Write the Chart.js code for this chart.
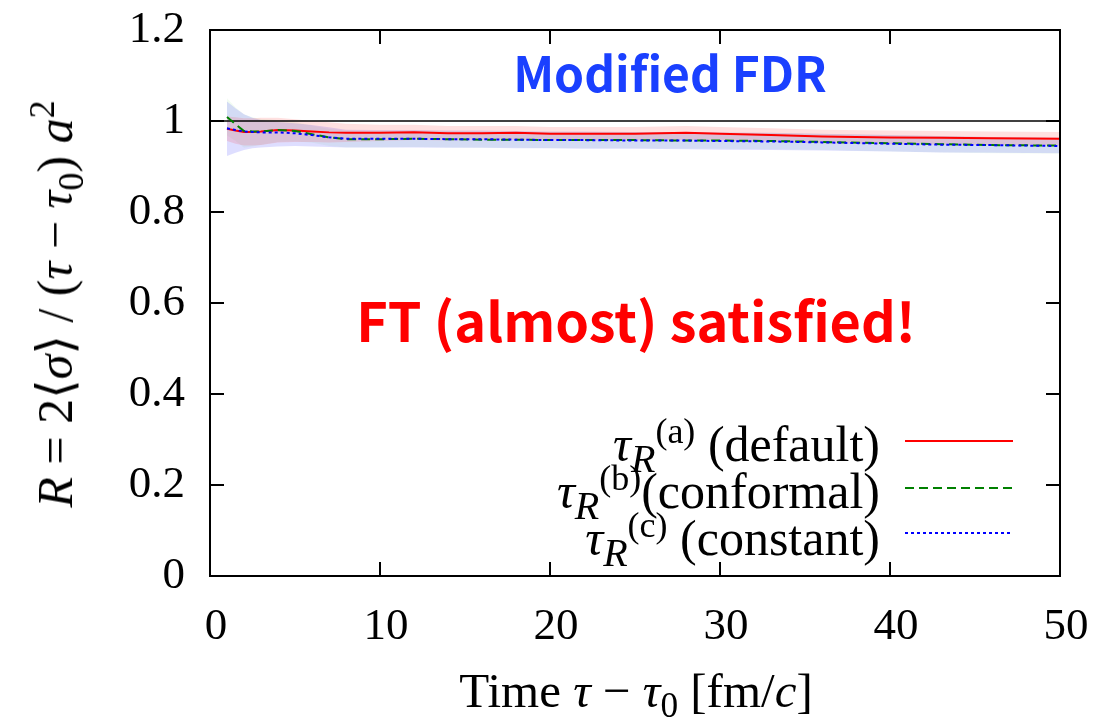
<!DOCTYPE html>
<html>
<head>
<meta charset="utf-8">
<script src="https://cdn.jsdelivr.net/npm/chart.js@4.4.1/dist/chart.umd.min.js"></script>
<style>
  html, body { margin:0; padding:0; background:#fff; }
  #wrap { position:relative; width:1094px; height:719px; overflow:hidden; }
  canvas { position:absolute; left:0; top:0; }
  .serif { font-family:"Liberation Serif","DejaVu Serif",serif; color:#000; position:absolute; white-space:nowrap; }
  .ann { font-family:"Noto Sans CJK JP","Noto Sans",sans-serif; font-weight:700; position:absolute; white-space:nowrap; transform:translate(-50%,-50%); }
  sub, sup { font-size:72%; line-height:0; }
  .leg sub { font-size:80%; }
</style>
</head>
<body>
<div id="wrap">
  <canvas id="c" width="1094" height="719"></canvas>
  <div class="serif" id="ytitle" style="left:55px;top:304px;font-size:50px;transform:translate(-50%,-50%) rotate(-90deg);"><i>R</i> = 2⟨<i>σ</i>⟩ / (<i>τ</i> − <i>τ</i><sub>0</sub>) <i>a</i><sup>2</sup></div>
  <div class="serif" id="xtitle" style="left:636px;top:690px;font-size:49px;transform:translate(-50%,-50%);">Time <i>τ</i> − <i>τ</i><sub>0</sub> [fm/<i>c</i>]</div>
  <div class="ann" style="left:670px;top:71px;font-size:48px;color:#1a40ff;">Modified FDR</div>
  <div class="ann" style="left:636px;top:318px;font-size:54px;color:#ff0000;">FT (almost) satisfied!</div>
  <div class="serif leg" style="right:214px;top:444px;font-size:50px;transform:translateY(-50%);"><i>τ</i><sub><i>R</i></sub><sup>(a)</sup> (default)</div>
  <div class="serif leg" style="right:214px;top:491px;font-size:50px;transform:translateY(-50%);"><i>τ</i><sub><i>R</i></sub><sup>(b)</sup>(conformal)</div>
  <div class="serif leg" style="right:214px;top:538px;font-size:50px;transform:translateY(-50%);"><i>τ</i><sub><i>R</i></sub><sup>(c)</sup> (constant)</div>
</div>
<script>
// ---- data ----
const tau = [1, 1.5, 2, 2.5, 3, 4, 5, 6, 7, 8, 10, 12, 14, 16, 18, 20, 22, 25, 28, 30, 33, 36, 40, 43, 46, 50];

const defaultR = [0.983, 0.979, 0.976, 0.976, 0.977, 0.980, 0.979, 0.977, 0.975, 0.974, 0.974, 0.975, 0.973, 0.973, 0.974, 0.972, 0.972, 0.972, 0.974, 0.972, 0.969, 0.966, 0.964, 0.963, 0.962, 0.961];
const defaultUp = [1.010, 1.008, 1.006, 1.006, 1.007, 1.007, 1.004, 1.000, 0.997, 0.994, 0.992, 0.992, 0.989, 0.989, 0.989, 0.987, 0.987, 0.987, 0.989, 0.987, 0.984, 0.981, 0.979, 0.978, 0.977, 0.976];
const defaultLo = [0.956, 0.950, 0.946, 0.946, 0.947, 0.953, 0.954, 0.954, 0.953, 0.954, 0.956, 0.958, 0.957, 0.958, 0.959, 0.957, 0.957, 0.957, 0.959, 0.957, 0.954, 0.951, 0.949, 0.948, 0.947, 0.946];

const conformalR = [1.009, 0.993, 0.978, 0.977, 0.977, 0.980, 0.978, 0.971, 0.964, 0.960, 0.960, 0.961, 0.960, 0.959, 0.959, 0.958, 0.958, 0.958, 0.957, 0.957, 0.956, 0.954, 0.951, 0.949, 0.947, 0.946];
const conformalUp = [1.050, 1.030, 1.015, 1.008, 1.005, 1.002, 0.998, 0.990, 0.983, 0.979, 0.978, 0.979, 0.978, 0.977, 0.977, 0.976, 0.976, 0.976, 0.975, 0.975, 0.974, 0.972, 0.969, 0.967, 0.965, 0.964];
const conformalLo = [0.968, 0.956, 0.941, 0.944, 0.947, 0.954, 0.955, 0.952, 0.945, 0.942, 0.942, 0.943, 0.942, 0.941, 0.941, 0.940, 0.940, 0.940, 0.939, 0.939, 0.938, 0.936, 0.933, 0.931, 0.929, 0.928];

const constantR = [0.984, 0.980, 0.977, 0.976, 0.975, 0.975, 0.973, 0.969, 0.964, 0.961, 0.961, 0.961, 0.960, 0.960, 0.959, 0.958, 0.958, 0.957, 0.957, 0.956, 0.955, 0.953, 0.950, 0.948, 0.947, 0.945];
const constantUp = [1.043, 1.028, 1.015, 1.007, 1.002, 0.998, 0.995, 0.991, 0.986, 0.981, 0.980, 0.980, 0.979, 0.979, 0.978, 0.977, 0.977, 0.976, 0.976, 0.975, 0.974, 0.972, 0.969, 0.967, 0.965, 0.963];
const constantLo = [0.923, 0.930, 0.936, 0.940, 0.942, 0.944, 0.945, 0.944, 0.943, 0.942, 0.942, 0.942, 0.941, 0.941, 0.940, 0.940, 0.939, 0.939, 0.938, 0.937, 0.936, 0.935, 0.933, 0.931, 0.930, 0.929];

const refX = [0, 50];
const refY = [1, 1];

const xTicks = [0, 10, 20, 30, 40, 50];
const yTicks = [0, 0.2, 0.4, 0.6, 0.8, 1, 1.2];

// ---- build ----
const pts = (xs, ys) => xs.map((x, i) => ({x: x, y: ys[i]}));
const band = (label, ys, color, order, fillTarget) => ({
  label, data: pts(tau, ys), borderWidth: 0, borderColor: 'rgba(0,0,0,0)',
  backgroundColor: color, pointRadius: 0, fill: fillTarget, order, tension: 0
});
const line = (label, ys, color, dash, order) => ({
  label, data: pts(tau, ys), borderColor: color, borderWidth: 2, borderDash: dash,
  pointRadius: 0, fill: false, order, tension: 0
});

const datasets = [
  line('default', defaultR, '#ff0000', [], 3),        // 0
  line('conformal', conformalR, '#008000', [9, 5], 2), // 1
  line('constant', constantR, '#0000ff', [3, 3], 1),   // 2
  { label: 'ref', data: pts(refX, refY), borderColor: '#000', borderWidth: 1.5, pointRadius: 0, fill: false, order: 4 }, // 3
  band('defUp', defaultUp, 'rgba(255,0,0,0.12)', 5, 5),   // 4
  band('defLo', defaultLo, 'rgba(0,0,0,0)', 5, false),    // 5
  band('conUp', conformalUp, 'rgba(0,200,0,0.05)', 7, 7), // 6
  band('conLo', conformalLo, 'rgba(0,0,0,0)', 7, false),  // 7
  band('cstUp', constantUp, 'rgba(0,0,255,0.13)', 6, 9),  // 8
  band('cstLo', constantLo, 'rgba(0,0,0,0)', 6, false)    // 9
];

const legendLines = [
  {color:'#ff0000', dash:[], y:441},
  {color:'#008000', dash:[9,5], y:488},
  {color:'#0000ff', dash:[3,3], y:533}
];

const frame = {
  id: 'frame',
  afterDatasetsDraw(chart) {
    const {ctx, chartArea: a, scales} = chart;
    ctx.save();
    ctx.strokeStyle = '#000';
    ctx.lineWidth = 2;
    ctx.setLineDash([]);
    ctx.strokeRect(a.left, a.top, a.right - a.left, a.bottom - a.top);
    const L = 14;
    ctx.beginPath();
    yTicks.forEach(v => {
      const y = scales.y.getPixelForValue(v);
      ctx.moveTo(a.left, y); ctx.lineTo(a.left + L, y);
      ctx.moveTo(a.right, y); ctx.lineTo(a.right - L, y);
    });
    xTicks.forEach(v => {
      const x = scales.x.getPixelForValue(v);
      ctx.moveTo(x, a.bottom); ctx.lineTo(x, a.bottom - L);
      ctx.moveTo(x, a.top); ctx.lineTo(x, a.top + L);
    });
    ctx.stroke();
    // legend samples
    legendLines.forEach(l => {
      ctx.beginPath();
      ctx.strokeStyle = l.color;
      ctx.lineWidth = 2;
      ctx.setLineDash(l.dash);
      ctx.moveTo(a.right - 155, l.y);
      ctx.lineTo(a.right - 47, l.y);
      ctx.stroke();
    });
    ctx.restore();
  }
};

new Chart(document.getElementById('c'), {
  type: 'line',
  data: { datasets },
  options: {
    responsive: false,
    animation: false,
    events: [],
    layout: { padding: { left: 0, right: 34, top: 30, bottom: 0 } },
    plugins: { legend: { display: false }, tooltip: { enabled: false }, filler: { propagate: false } },
    scales: {
      x: {
        type: 'linear', min: 0, max: 50,
        afterBuildTicks: s => { s.ticks = xTicks.map(v => ({value: v})); },
        afterFit: s => { s.height = 143; s.paddingLeft = 0; s.paddingRight = 0; },
        grid: { display: false, drawTicks: false },
        border: { display: false },
        ticks: { padding: 24, labelOffset: 6, color: '#000', font: { family: 'Liberation Serif', size: 45 } }
      },
      y: {
        type: 'linear', min: 0, max: 1.2,
        afterBuildTicks: s => { s.ticks = yTicks.map(v => ({value: v})); },
        afterFit: s => { s.width = 210; s.paddingTop = 0; s.paddingBottom = 0; },
        grid: { display: false, drawTicks: false },
        border: { display: false },
        ticks: { padding: 25, color: '#000', font: { family: 'Liberation Serif', size: 45 },
          callback: v => String(Math.round(v * 10) / 10) }
      }
    }
  },
  plugins: [frame]
});
</script>
</body>
</html>
